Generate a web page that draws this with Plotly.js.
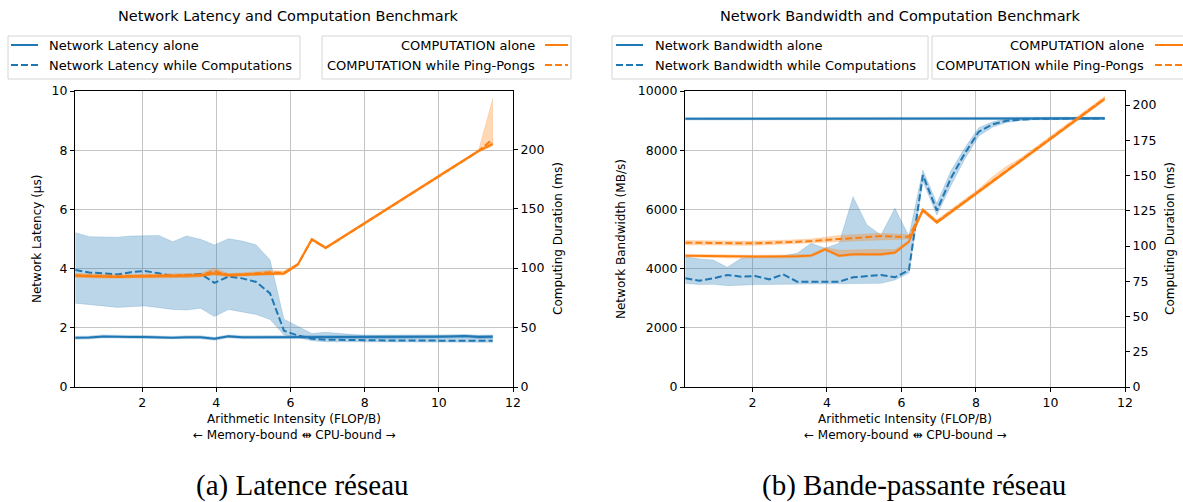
<!DOCTYPE html>
<html><head><meta charset="utf-8">
<script src="https://cdn.plot.ly/plotly-3.0.1.min.js"></script>
<style>html,body{margin:0;padding:0;background:#fff}#chart{width:1183px;height:502px}</style>
</head><body><div id="chart"></div><script>
// ---------- data ----------
const intensity = [0.2,0.575,0.95,1.325,1.7,2.075,2.45,2.825,3.2,3.575,3.95,4.325,4.7,5.075,5.45,5.825,6.2,6.575,6.95,7.325,7.7,8.075,8.45,8.825,9.2,9.575,9.95,10.325,10.7,11.075,11.45];
const xTicks = [2,4,6,8,10,12];

// (a) latency, µs
const latAlone   = [1.66,1.67,1.71,1.69,1.69,1.69,1.68,1.66,1.68,1.68,1.63,1.71,1.68,1.68,1.69,1.69,1.70,1.69,1.69,1.69,1.68,1.69,1.69,1.69,1.70,1.69,1.70,1.71,1.72,1.69,1.70];
const latAloneLo = [1.61,1.62,1.66,1.64,1.64,1.64,1.63,1.61,1.63,1.63,1.58,1.66,1.63,1.63,1.64,1.64,1.65,1.64,1.64,1.64,1.63,1.64,1.64,1.64,1.65,1.64,1.65,1.66,1.67,1.64,1.65];
const latAloneHi = [1.71,1.72,1.76,1.74,1.74,1.74,1.73,1.71,1.73,1.73,1.68,1.76,1.73,1.73,1.74,1.74,1.75,1.74,1.74,1.74,1.73,1.74,1.74,1.74,1.75,1.74,1.75,1.76,1.77,1.74,1.75];
const latComp    = [3.95,3.87,3.84,3.80,3.88,3.92,3.84,3.75,3.78,3.82,3.52,3.73,3.67,3.55,3.16,1.90,1.74,1.63,1.60,1.59,1.58,1.58,1.57,1.57,1.57,1.57,1.56,1.56,1.56,1.56,1.56];
const latCompLo  = [2.83,2.79,2.74,2.69,2.71,2.74,2.68,2.62,2.60,2.66,2.38,2.62,2.54,2.45,2.28,1.76,1.68,1.56,1.53,1.52,1.52,1.52,1.51,1.51,1.51,1.51,1.51,1.51,1.51,1.51,1.51];
const latCompHi  = [5.21,5.08,5.07,5.06,5.10,5.12,5.12,4.91,5.10,4.99,4.80,5.01,4.93,4.80,4.29,2.29,2.04,1.81,1.85,1.80,1.77,1.75,1.75,1.75,1.75,1.75,1.76,1.76,1.76,1.75,1.75];
// (a) computation duration, ms
const compAloneA   = [93.5,93.2,92.8,92.6,93.0,93.2,93.0,93.0,93.3,93.8,95.5,94.3,94.5,95.0,95.5,95.5,103.0,124.3,117.1,124.5,131.9,139.3,146.7,154.2,161.6,169.0,176.4,183.8,191.2,198.6,204.5];
const compAloneALo = [92.3,92.0,91.6,91.4,91.8,92.0,91.8,91.8,92.1,92.6,94.0,93.1,93.3,93.8,94.3,94.3,102.0,123.3,116.1,123.5,130.9,138.3,145.7,153.2,160.6,168.0,175.4,182.8,190.2,197.6,203.0];
const compAloneAHi = [94.7,94.4,94.0,93.8,94.2,94.4,94.2,94.2,94.5,95.0,97.0,95.5,95.7,96.2,96.7,96.7,104.0,125.3,118.1,125.5,132.9,140.3,147.7,155.2,162.6,170.0,177.4,184.8,192.2,199.6,206.0];
const compPingA    = [94.0,93.6,93.2,93.0,93.3,93.5,93.3,93.4,93.6,94.2,97.5,94.0,94.6,95.6,96.5,96.0,103.2,124.0,117.0,124.3,131.8,139.2,146.6,154.0,161.5,168.9,176.3,183.7,191.1,198.7,208.5];
const compPingALo  = [92.5,92.2,91.8,91.6,91.9,92.1,91.9,92.0,92.2,92.8,95.0,92.6,93.2,94.2,95.0,94.5,102.0,123.0,116.0,123.3,130.8,138.2,145.6,153.0,160.5,167.9,175.3,182.7,190.1,197.5,203.0];
const compPingAHi  = [95.5,95.0,94.6,94.4,94.7,94.9,94.7,94.8,95.0,95.6,100.0,95.4,96.0,97.0,98.0,97.5,104.4,125.0,118.0,125.3,132.8,140.2,147.6,155.0,162.5,169.9,177.3,184.7,192.1,199.5,242.0];

// (b) bandwidth, MB/s
const bwAlone   = [9060,9060,9062,9060,9058,9060,9062,9065,9062,9060,9060,9062,9065,9062,9058,9060,9062,9065,9062,9060,9065,9068,9066,9068,9070,9070,9072,9075,9075,9078,9078];
const bwAloneLo = [9020,9020,9022,9020,9018,9020,9022,9025,9022,9020,9020,9022,9025,9022,9018,9020,9022,9025,9022,9020,9025,9028,9026,9028,9030,9030,9032,9035,9035,9038,9038];
const bwAloneHi = [9100,9100,9102,9100,9098,9100,9102,9105,9102,9100,9100,9102,9105,9102,9098,9100,9102,9105,9102,9100,9105,9108,9106,9108,9110,9110,9112,9115,9115,9118,9118];
const bwComp    = [3672,3592,3672,3784,3727,3750,3637,3806,3558,3558,3558,3558,3705,3750,3784,3705,3950,7160,5960,7050,7894,8626,8874,8998,9040,9060,9065,9068,9070,9072,9072];
const bwCompLo  = [3500,3460,3470,3423,3440,3460,3470,3480,3480,3480,3480,3490,3490,3500,3502,3615,3850,6950,5810,6800,7700,8480,8780,8940,9000,9030,9040,9040,9040,9040,9040];
const bwCompHi  = [4403,4324,4290,4042,4346,4403,4420,4430,4516,4853,4685,4853,6430,5473,5135,6036,5100,7330,6200,7300,8080,8760,8960,9060,9080,9090,9100,9100,9100,9100,9100];
// (b) computation duration, ms
const compAloneB   = [93.2,93.0,92.8,92.5,92.5,92.5,92.6,92.6,92.8,93.2,97.7,93.2,94.2,94.2,94.2,95.4,103.1,125.6,116.8,124.1,131.4,138.7,146.0,153.3,160.6,167.9,175.2,182.5,189.8,197.0,204.3];
const compAloneBLo = [92.2,92.0,91.8,91.5,91.5,91.5,91.6,91.6,91.8,92.2,96.7,92.2,93.2,93.2,93.2,94.4,102.1,124.6,115.8,123.1,130.4,137.7,145.0,152.3,159.6,166.9,174.2,181.5,188.8,196.0,203.3];
const compAloneBHi = [94.2,94.0,93.8,93.5,93.5,93.5,93.6,93.6,93.8,94.2,99.0,97.0,97.5,97.5,97.5,97.5,104.1,126.6,117.8,125.1,132.4,139.7,147.0,154.3,161.6,168.9,176.2,183.5,190.8,198.0,205.3];
const compPingB    = [102.4,102.2,102.0,102.0,102.0,102.0,102.2,102.5,103.0,103.5,104.5,105.0,105.5,106.2,107.1,106.6,106.6,125.3,117.2,124.4,131.7,139.0,146.3,153.6,160.9,168.2,175.5,182.8,190.1,197.4,204.6];
const compPingBLo  = [100.9,100.7,100.5,100.5,100.5,100.5,100.7,101.0,101.5,102.0,102.5,103.0,103.5,104.0,104.5,104.6,105.1,123.8,115.7,122.9,130.2,137.5,144.8,152.1,159.4,166.7,174.0,181.3,188.6,195.9,203.1];
const compPingBHi  = [103.9,103.7,103.5,103.5,103.5,103.5,103.7,104.0,104.5,105.0,106.5,107.5,108.0,108.5,109.0,108.6,108.1,126.8,118.7,125.9,133.2,140.5,149.3,156.6,162.4,169.7,177.0,184.3,191.6,198.9,206.1];

const legendLatency   = ['Network Latency alone', 'Network Latency while Computations'];
const legendBandwidth = ['Network Bandwidth alone', 'Network Bandwidth while Computations'];
const legendCompute   = ['COMPUTATION alone', 'COMPUTATION while Ping-Pongs'];

// ---------- helpers ----------
const W = 1183, H = 502;
const PX = v => v / W, PY = v => 1 - v / H;
const BLUE = '#1f77b4', ORANGE = '#ff7f0e';
const BLUE_F = 'rgba(31,119,180,0.3)', ORANGE_F = 'rgba(255,127,14,0.3)';
const FONT = 'DejaVu Sans, Arial, sans-serif';
const DASH = '7px,3px';

function band(x, lo, hi, fill, xa, ya) {
  return { x: x.concat(x.slice().reverse()), y: hi.concat(lo.slice().reverse()),
    type: 'scatter', mode: 'lines', fill: 'toself', fillcolor: fill,
    line: { color: fill, width: 0.6 }, hoverinfo: 'skip', showlegend: false, xaxis: xa, yaxis: ya };
}
function line(x, y, color, dash, name, xa, ya) {
  return { x, y, type: 'scatter', mode: 'lines', name, line: { color, width: 2, dash },
    xaxis: xa, yaxis: ya, showlegend: false };
}

const traces = [
  // (a)
  band(intensity, latAloneLo, latAloneHi, BLUE_F, 'x', 'y'),
  band(intensity, latCompLo, latCompHi, BLUE_F, 'x', 'y'),
  line(intensity, latAlone, BLUE, 'solid', legendLatency[0], 'x', 'y'),
  line(intensity, latComp, BLUE, DASH, legendLatency[1], 'x', 'y'),
  band(intensity, compAloneALo, compAloneAHi, ORANGE_F, 'x', 'y2'),
  band(intensity, compPingALo, compPingAHi, ORANGE_F, 'x', 'y2'),
  line(intensity, compAloneA, ORANGE, 'solid', legendCompute[0], 'x', 'y2'),
  line(intensity, compPingA, ORANGE, DASH, legendCompute[1], 'x', 'y2'),
  // (b)
  band(intensity, bwAloneLo, bwAloneHi, BLUE_F, 'x2', 'y3'),
  band(intensity, bwCompLo, bwCompHi, BLUE_F, 'x2', 'y3'),
  line(intensity, bwAlone, BLUE, 'solid', legendBandwidth[0], 'x2', 'y3'),
  line(intensity, bwComp, BLUE, DASH, legendBandwidth[1], 'x2', 'y3'),
  band(intensity, compAloneBLo, compAloneBHi, ORANGE_F, 'x2', 'y4'),
  band(intensity, compPingBLo, compPingBHi, ORANGE_F, 'x2', 'y4'),
  line(intensity, compAloneB, ORANGE, 'solid', legendCompute[0], 'x2', 'y4'),
  line(intensity, compPingB, ORANGE, DASH, legendCompute[1], 'x2', 'y4'),
];

const tickFont = { family: FONT, size: 12.5, color: '#000' };
const yDom = [PY(387), PY(91)];
const GRID = '#c4c4c4';
const xAxisBase = { range: [0.19, 12], tickvals: xTicks, showgrid: true, gridcolor: GRID, gridwidth: 1,
  showline: true, mirror: true, linecolor: '#000', linewidth: 1, ticks: 'outside', ticklen: 4, tickcolor: '#000',
  zeroline: false, tickfont: tickFont, fixedrange: true };
const yLeftBase = { showgrid: true, gridcolor: GRID, gridwidth: 1, showline: true, mirror: true, linecolor: '#000',
  linewidth: 1, ticks: 'outside', ticklen: 4, tickcolor: '#000', zeroline: false, tickfont: tickFont, domain: yDom,
  tickformat: 'd' };
const yRightBase = { side: 'right', showgrid: false, showline: true, linecolor: '#000', linewidth: 1, ticks: 'outside',
  ticklen: 4, tickcolor: '#000', zeroline: false, tickfont: tickFont, tickformat: 'd' };

function ann(text, x, y, opts) {
  return Object.assign({ text, x: PX(x), y: PY(y), xref: 'paper', yref: 'paper', showarrow: false,
    xanchor: 'center', yanchor: 'middle', font: { family: FONT, size: 12, color: '#000' } }, opts || {});
}
function pshape(o) { return Object.assign({ xref: 'paper', yref: 'paper' }, o); }

const titleFont = { family: FONT, size: 14.5, color: '#000' };
const legFont = { family: FONT, size: 13, color: '#000' };
const capFont = { family: 'Liberation Serif, DejaVu Serif, serif', size: 29, color: '#000' };
const annotations = [
  ann('Network Latency and Computation Benchmark', 288, 16, { font: titleFont }),
  ann('Network Bandwidth and Computation Benchmark', 900, 16, { font: titleFont }),
  ann('Network Latency (µs)', 37, 239, { textangle: -90 }),
  ann('Computing Duration (ms)', 558, 239, { textangle: -90 }),
  ann('Network Bandwidth (MB/s)', 621, 239, { textangle: -90 }),
  ann('Computing Duration (ms)', 1170, 239, { textangle: -90 }),
  ann('Arithmetic Intensity (FLOP/B)', 294, 419),
  ann('← Memory-bound ⇹ CPU-bound →', 294, 435),
  ann('Arithmetic Intensity (FLOP/B)', 905, 419),
  ann('← Memory-bound ⇹ CPU-bound →', 905, 435),
  ann('(a) Latence réseau', 302, 485, { font: capFont }),
  ann('(b) Bande-passante réseau', 914, 485, { font: capFont }),
];
const shapes = [];

function legendBox(bx0, bx1, hx0, hx1, tx, anchor, labels, color) {
  shapes.push(pshape({ type: 'rect', x0: PX(bx0), x1: PX(bx1), y0: PY(36), y1: PY(79),
    line: { color: '#d6d6d6', width: 1 }, fillcolor: '#fff', layer: 'above' }));
  [45, 65].forEach((yy, i) => {
    shapes.push(pshape({ type: 'line', x0: PX(hx0), x1: PX(hx1), y0: PY(yy), y1: PY(yy),
      line: { color, width: 2, dash: i ? DASH : 'solid' } }));
    annotations.push(ann(labels[i], tx, yy, { xanchor: anchor, font: legFont }));
  });
}
legendBox(8, 300, 11, 38, 47, 'left', legendLatency, BLUE);
legendBox(322, 571, 545, 568, 537, 'right', legendCompute, ORANGE);
legendBox(612, 928, 616, 643, 653, 'left', legendBandwidth, BLUE);
legendBox(932, 1192, 1155, 1183, 1146, 'right', legendCompute, ORANGE);

const layout = {
  width: W, height: H, margin: { l: 0, r: 0, t: 0, b: 0 }, paper_bgcolor: '#fff', plot_bgcolor: '#fff',
  font: { family: FONT, color: '#000' }, showlegend: false,
  xaxis: Object.assign({}, xAxisBase, { domain: [PX(75), PX(513)], anchor: 'y' }),
  yaxis: Object.assign({}, yLeftBase, { range: [0, 10], dtick: 2, anchor: 'x' }),
  yaxis2: Object.assign({}, yRightBase, { range: [0, 249], dtick: 50, overlaying: 'y', anchor: 'x' }),
  xaxis2: Object.assign({}, xAxisBase, { domain: [PX(685), PX(1125)], anchor: 'y3' }),
  yaxis3: Object.assign({}, yLeftBase, { range: [0, 10000], dtick: 2000, anchor: 'x2' }),
  yaxis4: Object.assign({}, yRightBase, { range: [0, 210], dtick: 25, overlaying: 'y3', anchor: 'x2' }),
  annotations, shapes,
};

Plotly.newPlot('chart', traces, layout, { staticPlot: true, displayModeBar: false });
</script></body></html>
